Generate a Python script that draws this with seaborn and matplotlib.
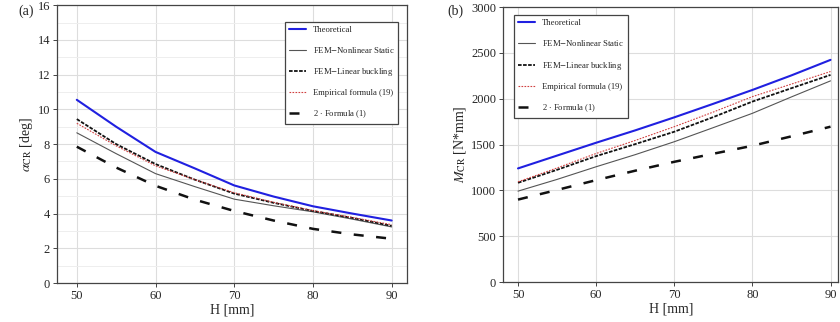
import numpy as np
import pandas as pd
import seaborn as sns
import matplotlib.pyplot as plt
from matplotlib.ticker import MultipleLocator

H = [50, 55, 60, 65, 70, 75, 80, 85, 90]

# (a) critical angle [deg]
alpha_theoretical = [10.55, 9.0, 7.55, 6.6, 5.62, 4.98, 4.42, 4.0, 3.6]
alpha_nonlinear = [8.65, 7.45, 6.3, 5.55, 4.83, 4.45, 4.1, 3.68, 3.23]
alpha_linear = [9.44, 8.0, 6.85, 5.95, 5.15, 4.62, 4.15, 3.75, 3.29]
alpha_empirical = [9.2, 7.9, 6.75, 5.95, 5.2, 4.65, 4.17, 3.78, 3.36]
alpha_formula = [7.85, 6.65, 5.6, 4.8, 4.15, 3.6, 3.12, 2.8, 2.55]

# (b) critical moment [N*mm]
M_theoretical = [1240, 1380, 1520, 1655, 1797, 1945, 2096, 2255, 2424]
M_nonlinear = [992, 1120, 1258, 1390, 1531, 1685, 1841, 2020, 2195]
M_linear = [1083, 1225, 1374, 1505, 1640, 1800, 1969, 2115, 2260]
M_empirical = [1094, 1245, 1403, 1545, 1695, 1855, 2023, 2160, 2297]
M_formula = [900, 1005, 1112, 1215, 1312, 1400, 1487, 1590, 1695]

labels = ['Theoretical', 'FEM$-$Nonlinear Static', 'FEM$-$Linear buckling',
          'Empirical formula (19)', r'2 $\cdot$ Formula (1)']

styles = [
    dict(color='#2020e0', lw=1.5, ls='-'),
    dict(color='#555555', lw=0.8, ls='-'),
    dict(color='#111111', lw=1.3, ls=(0, (2, 0.8))),
    dict(color='#d04040', lw=0.8, ls=(0, (1.5, 1.2))),
    dict(color='#111111', lw=1.8, ls=(0, (4, 5))),
]

sns.set_theme(style='whitegrid')
plt.rcParams['font.family'] = ['Liberation Serif', 'DejaVu Serif']
plt.rcParams['mathtext.fontset'] = 'stix'

fig = plt.figure(figsize=(8.4, 3.22), dpi=100)
ax1 = fig.add_axes([0.068, 0.121, 0.417, 0.863])
ax2 = fig.add_axes([0.599, 0.124, 0.399, 0.854])

series_a = [alpha_theoretical, alpha_nonlinear, alpha_linear, alpha_empirical, alpha_formula]
series_b = [M_theoretical, M_nonlinear, M_linear, M_empirical, M_formula]

for ax, series in [(ax1, series_a), (ax2, series_b)]:
    for vals, lab, st in zip(series, labels, styles):
        df = pd.DataFrame({'H': H, 'v': vals})
        sns.lineplot(data=df, x='H', y='v', ax=ax, label=lab, color=st['color'],
                     linewidth=st['lw'], linestyle=st['ls'])
    for s in ax.spines.values():
        s.set_color('#444444')
        s.set_linewidth(0.9)
    ax.grid(True, which='major', color='#dddddd', lw=0.8)
    ax.tick_params(labelsize=9, length=3, width=0.7, color='#444444', left=True, bottom=True, pad=2)
    ax.set_xlabel('H [mm]', fontsize=10, labelpad=1)
    ax.set_xticks([50, 60, 70, 80, 90])

ax1.set_xlim(47.5, 92)
ax1.set_ylim(0, 16)
ax1.yaxis.set_minor_locator(MultipleLocator(1))
ax1.grid(True, which='minor', axis='y', color='#eeeeee', lw=0.7)
ax1.set_ylabel(r'$\alpha_{\mathrm{CR}}$ [deg]', fontsize=10, labelpad=2)

ax2.set_xlim(48.1, 91)
ax2.set_ylim(0, 3000)
ax2.set_ylabel(r'$M_{\mathrm{CR}}$ [N*mm]', fontsize=10, labelpad=2)

leg_kw = dict(fontsize=6.2, frameon=True, fancybox=False, edgecolor='#444444',
              labelspacing=1.3, handlelength=2.0, handletextpad=0.8,
              borderpad=0.45, borderaxespad=0, framealpha=1)
l1 = ax1.legend(loc='upper right', bbox_to_anchor=(0.974, 0.94), **leg_kw)
l2 = ax2.legend(loc='upper left', bbox_to_anchor=(0.033, 0.97), **leg_kw)
for l in (l1, l2):
    l.get_frame().set_linewidth(0.9)

fig.text(0.022, 0.955, '(a)', fontsize=10)
fig.text(0.533, 0.955, '(b)', fontsize=10)

fig.savefig('out.png', dpi=100)
